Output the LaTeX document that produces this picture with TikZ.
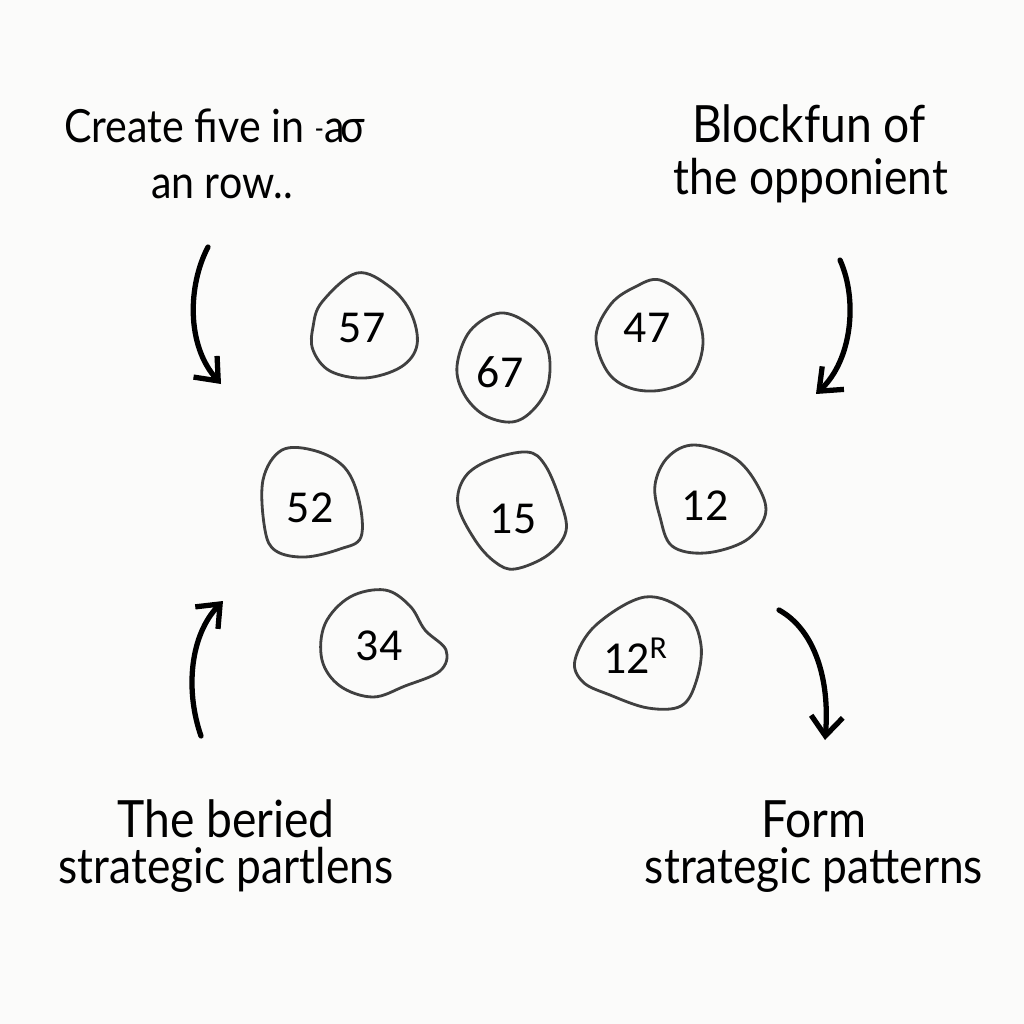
\documentclass[tikz,border=0pt]{standalone}
\usepackage{fontspec}
\setmainfont{Lato}[FakeStretch=0.9]
\newfontfamily\numfont{Carlito}
\usetikzlibrary{arrows.meta}
\definecolor{BgClr}{rgb}{0.984,0.984,0.980}
\definecolor{BlobClr}{rgb}{0.25,0.25,0.25}

\begin{document}
\begin{tikzpicture}[x=0.01cm,y=-0.01cm,
  blob/.style={draw=BlobClr,line width=0.8pt},
  num/.style={font=\numfont\fontsize{13}{13}\selectfont},
  bigline/.style={anchor=base,font=\fontsize{14.6}{15}\selectfont},
  smallline/.style={anchor=base,font=\fontsize{14}{14}\selectfont},
  topline/.style={anchor=base,font=\fontsize{13}{13}\selectfont},
  flow/.style={line width=1.5pt,line cap=round,-{Straight Barb[length=5.5pt,width=9pt,line width=1.5pt]}}]

\fill[BgClr] (0,0) rectangle (1024,1024);
\useasboundingbox (0,0) rectangle (1024,1024);

% labels
\node[topline] (cre1) at (215,142) {Create five in {\fontsize{8}{8}\selectfont\raisebox{1pt}{-}}a\kern-1pt σ};
\node[topline] (cre2) at (222,198) {an row..};
\node[bigline] (blk1) at (809,143) {Blockfun of};
\node[smallline] (blk2) at (811,194) {the opponient};
\node[bigline] (ber1) at (226,837) {The beried};
\node[smallline] (ber2) at (226,883) {strategic partlens};
\node[bigline] (frm1) at (814,837) {Form};
\node[smallline] (frm2) at (814,883) {strategic patterns};

% numbered stones
\node[num] (n57) at (362,328) {57};
\node[num] (n67) at (500,372) {67};
\node[num] (n47) at (647,328) {47};
\node[num] (n52) at (310,508) {52};
\node[num] (n15) at (513,519) {15};
\node[num] (n12) at (705,506) {12};
\node[num] (n34) at (379,646) {34};
\node[num] (n12r) at (636,656) {12\textsuperscript{R}};

\draw[blob] plot[smooth cycle,tension=0.6] coordinates {(357,273) (390,287) (411,313) (417,345) (401,367) (365,378) (330,371) (313,350) (313,327) (322,302)};
\draw[blob] plot[smooth cycle,tension=0.6] coordinates {(500,313) (530,325) (548,350) (548,385) (533,410) (512,422) (484,415) (464,394) (457,366) (470,331)};
\draw[blob] plot[smooth cycle,tension=0.6] coordinates {(660,280) (690,302) (703,340) (692,376) (662,390) (630,388) (607,371) (596,336) (611,304) (635,287)};
\draw[blob] plot[smooth cycle,tension=0.6] coordinates {(282,450) (316,451) (345,468) (359,500) (361,537) (340,549) (305,557) (276,551) (265,530) (263,480)};
\draw[blob] plot[smooth cycle,tension=0.6] coordinates {(527,452) (545,465) (560,500) (566,531) (548,555) (515,569) (495,562) (475,540) (458,505) (465,477) (490,460)};
\draw[blob] plot[smooth cycle,tension=0.6] coordinates {(695,445) (736,459) (760,490) (765,516) (745,541) (705,553) (672,546) (660,517) (655,485) (668,457)};
\draw[blob] plot[smooth cycle,tension=0.6] coordinates {(385,590) (410,606) (425,630) (446,650) (440,671) (405,686) (373,697) (340,686) (322,660) (325,624) (350,597)};
\draw[blob] plot[smooth cycle,tension=0.6] coordinates {(645,597) (686,612) (701,645) (696,682) (681,706) (648,708) (610,695) (583,682) (575,660) (596,625)};

% arrows
\coordinate (a1s) at (208,247);
\coordinate (a1e) at (221,384);
\coordinate (a2s) at (840,260);
\coordinate (a2e) at (816,394);
\coordinate (a3s) at (201,736);
\coordinate (a3e) at (223,601);
\coordinate (a4s) at (779,610);
\coordinate (a4e) at (825,740);

\draw[flow] (a1s) .. controls (188,285) and (186,345) .. (a1e);
\draw[flow] (a2s) .. controls (858,300) and (852,360) .. (a2e);
\draw[flow] (a3s) .. controls (185,690) and (190,635) .. (a3e);
\draw[flow] (a4s) .. controls (815,630) and (830,680) .. (a4e);

\end{tikzpicture}
\end{document}
